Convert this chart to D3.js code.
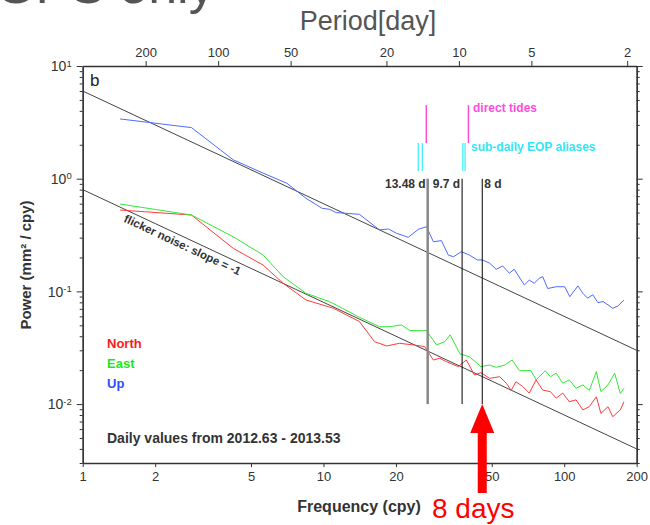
<!DOCTYPE html>
<html>
<head>
<meta charset="utf-8">
<script src="https://cdn.jsdelivr.net/npm/d3@7"></script>
<style>
  body { margin: 0; background: #fff; }
  svg { font-family: "Liberation Sans", Arial, Helvetica, sans-serif; }
</style>
</head>
<body>
<div id="chart"></div>
<script>
// Power spectra (GPS only), daily values 2012.63 - 2013.53
const freqTicks = [1, 2, 5, 10, 20, 50, 100, 200];
const periodTicks = [200, 100, 50, 20, 10, 5, 2];
const powerDecades = [0.01, 0.1, 1, 10];

const freqUp = [1.43, 2.83, 4.22, 5.62, 7.05, 8.46, 9.87, 10.6, 11.3, 14.1, 17.1, 18.6, 20.1, 22.5, 24.8, 26.8, 28.6, 30.9, 33.0, 34.7, 37.4, 40.4, 43.6, 45.8, 49.0, 52.2, 55.5, 59.2, 62.0, 68.3, 71.6, 75.1, 78.8, 81.4, 85.4, 92.6, 100.5, 105.5, 114, 119.5, 125, 131.5, 138, 145, 152, 159, 167, 177];
const powUp = [3.39, 2.84, 1.47, 1.12, 0.91, 0.67, 0.546, 0.535, 0.50, 0.483, 0.351, 0.358, 0.328, 0.302, 0.356, 0.375, 0.276, 0.282, 0.21, 0.203, 0.225, 0.21, 0.19, 0.19, 0.178, 0.157, 0.168, 0.145, 0.157, 0.114, 0.126, 0.118, 0.131, 0.135, 0.106, 0.11, 0.11, 0.0897, 0.112, 0.0962, 0.0871, 0.0933, 0.0794, 0.0813, 0.0759, 0.0708, 0.0741, 0.0839];

const freqEast = [1.43, 2.83, 4.22, 5.62, 6.8, 8.46, 10.6, 12.0, 14.1, 17.1, 18.9, 21.1, 22.8, 24.8, 26.8, 29.5, 31.9, 33.6, 36.9, 40.4, 45.1, 49, 52.2, 56.6, 60.8, 65.2, 72.8, 76.4, 83.4, 87.6, 92.6, 98.6, 105, 112, 119.5, 127, 136, 142, 152, 162, 171, 177];
const powEast = [0.596, 0.476, 0.305, 0.21, 0.135, 0.0962, 0.0811, 0.0708, 0.0589, 0.0486, 0.0486, 0.0504, 0.0449, 0.0449, 0.0449, 0.0335, 0.0358, 0.0411, 0.0279, 0.0263, 0.0215, 0.0222, 0.0212, 0.0222, 0.0246, 0.0198, 0.0198, 0.0164, 0.0198, 0.0175, 0.0188, 0.0153, 0.0164, 0.0138, 0.0148, 0.0132, 0.0194, 0.0129, 0.0148, 0.0188, 0.0124, 0.0138];

const freqNorth = [1.43, 2.83, 4.22, 5.62, 6.8, 8.46, 11.0, 14.1, 16.3, 18.3, 20.7, 23.6, 26.3, 28.6, 30.4, 32.4, 36.3, 39.2, 42.4, 45.1, 49, 53.9, 57.5, 60.2, 63.0, 67.3, 71.6, 76.4, 81.4, 87.6, 92.6, 98.6, 105, 112, 119.5, 127, 136, 142, 152, 159, 171, 177];
const powNorth = [0.527, 0.476, 0.241, 0.171, 0.118, 0.0839, 0.0708, 0.054, 0.0358, 0.0328, 0.0346, 0.0335, 0.0324, 0.0246, 0.0255, 0.0238, 0.0215, 0.0246, 0.0181, 0.019, 0.0169, 0.0175, 0.0153, 0.0132, 0.0158, 0.0143, 0.0125, 0.0164, 0.0133, 0.0129, 0.0113, 0.0125, 0.0105, 0.0109, 0.00887, 0.00948, 0.0116, 0.00828, 0.00948, 0.00773, 0.00887, 0.0105];

// flicker noise reference lines: power = amp / f
const flickerAmp = [6.0, 0.8];

const markerPeriods = [13.48, 9.7, 8];
const markerLabels = ["13.48 d", "9.7 d", "8 d"];
const tidePeriods = [13.66, 9.13];
const aliasPeriods = [14.76, 14.19, 9.63, 9.43];

const series = [
  {name: "North", f: freqNorth, p: powNorth, line: "#ff3b3b", text: "#ff1a1a"},
  {name: "East",  f: freqEast,  p: powEast,  line: "#33e833", text: "#1de61d"},
  {name: "Up",    f: freqUp,    p: powUp,    line: "#4d6bff", text: "#2a4dff"}
];

const W = 650, H = 525;
const plot = {left: 82.7, right: 636.7, top: 66, bottom: 463};

const svg = d3.select("#chart").append("svg")
    .attr("width", W)
    .attr("height", H);

const x = d3.scaleLog().domain([1, 200]).range([plot.left, plot.right]);
const y = d3.scaleLog().domain([0.003, 10]).range([plot.bottom, plot.top]);
const perToFreq = p => 365.25 / p;

// big cut-off title and period label
svg.append("text")
    .attr("x", -5).attr("y", 3)
    .style("font-size", "52px")
    .style("fill", "#555")
    .text("GPS only");

svg.append("text")
    .attr("x", 368).attr("y", 30)
    .attr("text-anchor", "middle")
    .style("font-size", "27px")
    .style("fill", "#555")
    .text("Period[day]");

// clip for data lines
svg.append("clipPath").attr("id", "clip")
  .append("rect")
    .attr("x", plot.left).attr("y", plot.top)
    .attr("width", plot.right - plot.left)
    .attr("height", plot.bottom - plot.top);

const g = svg.append("g").attr("clip-path", "url(#clip)");

// flicker lines
g.selectAll("line.flicker")
  .data(flickerAmp)
  .enter().append("line")
    .attr("class", "flicker")
    .attr("x1", x(1)).attr("y1", d => y(d))
    .attr("x2", x(200)).attr("y2", d => y(d / 200))
    .style("stroke", "#444")
    .style("stroke-width", 1);

// spectra
const line = d3.line().x(d => x(d[0])).y(d => y(d[1]));
series.forEach(s => {
  g.append("path")
    .datum(s.f.map((f, i) => [f, s.p[i]]))
    .attr("d", line)
    .style("fill", "none")
    .style("stroke", s.line)
    .style("stroke-width", 1);
});

// period markers
svg.selectAll("line.marker")
  .data(markerPeriods)
  .enter().append("line")
    .attr("x1", d => x(perToFreq(d))).attr("x2", d => x(perToFreq(d)))
    .attr("y1", y(1)).attr("y2", y(0.01))
    .style("stroke", (d, i) => i === 0 ? "#888" : "#000")
    .style("stroke-width", (d, i) => i === 0 ? 2.5 : 1);

svg.selectAll("text.marker")
  .data(markerPeriods)
  .enter().append("text")
    .attr("x", (d, i) => x(perToFreq(d)) + (i === 2 ? 2 : -2))
    .attr("y", 188)
    .attr("text-anchor", (d, i) => i === 2 ? "start" : "end")
    .style("font-size", "12px")
    .style("font-weight", "bold")
    .style("fill", "#333")
    .text((d, i) => markerLabels[i]);

// direct tides and EOP aliases
svg.selectAll("line.tide")
  .data(tidePeriods)
  .enter().append("line")
    .attr("x1", d => x(perToFreq(d))).attr("x2", d => x(perToFreq(d)))
    .attr("y1", y(4.5)).attr("y2", y(2.07))
    .style("stroke", "#ff4ce0")
    .style("stroke-width", 1.5);

svg.selectAll("line.alias")
  .data(aliasPeriods)
  .enter().append("line")
    .attr("x1", d => x(perToFreq(d))).attr("x2", d => x(perToFreq(d)))
    .attr("y1", y(2.07)).attr("y2", y(1.17))
    .style("stroke", "#33eeff")
    .style("stroke-width", 1.2);

svg.append("text")
    .attr("x", 473).attr("y", 112)
    .style("font-size", "12px").style("font-weight", "bold")
    .style("fill", "#ff4ce0")
    .text("direct tides");

svg.append("text")
    .attr("x", 471).attr("y", 151)
    .style("font-size", "12px").style("font-weight", "bold")
    .style("fill", "#33e6f5")
    .text("sub-daily EOP aliases");

// flicker label along the lower line
const angle = Math.atan2(y(0.08) - y(0.8), x(10) - x(1)) * 180 / Math.PI;
svg.append("text")
    .attr("transform", `translate(${x(1.5) - 2},${y(0.8 / 1.5) + 12}) rotate(${angle})`)
    .style("font-size", "11.5px").style("font-weight", "bold")
    .style("fill", "#333")
    .text("flicker noise: slope = -1");

// axes
const axisColor = "#333";
const styleAxis = sel => {
  sel.selectAll("path").style("stroke", axisColor).style("stroke-width", 1.3);
  sel.selectAll("line").style("stroke", axisColor);
  sel.selectAll("text").style("fill", "#333").style("font-size", "13px")
     .style("font-family", "'Liberation Sans', Arial, sans-serif");
};

svg.append("g")
    .attr("transform", `translate(0,${plot.bottom})`)
    .call(d3.axisBottom(x).tickValues(freqTicks).tickFormat(d3.format("d")).tickSize(4).tickSizeOuter(0).tickPadding(5))
    .call(styleAxis);

svg.append("g")
    .attr("transform", `translate(0,${plot.top})`)
    .call(d3.axisTop(x).tickValues(periodTicks.map(perToFreq))
          .tickFormat((d, i) => periodTicks[i]).tickSize(5).tickSizeOuter(0).tickPadding(4))
    .call(styleAxis);

const minorTicks = [];
[0.001, 0.01, 0.1, 1].forEach(dec => {
  for (let k = 2; k <= 9; k++) {
    const v = dec * k;
    if (v >= 0.003 && v < 10) minorTicks.push(v);
  }
});

[["left", d3.axisLeft, plot.left], ["right", d3.axisRight, plot.right]].forEach(([side, ax, xpos]) => {
  svg.append("g")
      .attr("transform", `translate(${xpos},0)`)
      .call(ax(y).tickValues(minorTicks).tickSize(3).tickSizeOuter(0).tickFormat(""))
      .call(styleAxis);
  const major = svg.append("g")
      .attr("transform", `translate(${xpos},0)`)
      .call(ax(y).tickValues(powerDecades).tickSize(6).tickSizeOuter(0).tickFormat(""))
      .call(styleAxis);
  if (side === "left") {
    major.selectAll(".tick").append("text")
        .attr("x", -11).attr("dy", "0.35em")
        .attr("text-anchor", "end")
        .style("fill", "#333").style("font-size", "14px")
        .each(function(d) {
          const t = d3.select(this);
          t.append("tspan").text("10");
          t.append("tspan").attr("dy", "-0.5em").style("font-size", "9.5px")
            .text(Math.round(Math.log10(d)));
        });
  }
});

// panel letter
svg.append("text")
    .attr("x", 90).attr("y", 86)
    .style("font-size", "17px").style("fill", "#222")
    .text("b");

// legend
svg.selectAll("text.legend")
  .data(series)
  .enter().append("text")
    .attr("x", 107)
    .attr("y", (d, i) => 348 + i * 20)
    .style("font-size", "13px").style("font-weight", "bold")
    .style("fill", d => d.text)
    .text(d => d.name);

svg.append("text")
    .attr("x", 107).attr("y", 443)
    .style("font-size", "14px").style("font-weight", "bold")
    .style("fill", "#333")
    .text("Daily values from 2012.63 - 2013.53");

// axis titles
svg.append("text")
    .attr("x", 359).attr("y", 512)
    .attr("text-anchor", "middle")
    .style("font-size", "16px").style("font-weight", "bold")
    .style("fill", "#333")
    .text("Frequency (cpy)");

svg.append("text")
    .attr("transform", "translate(31,265) rotate(-90)")
    .attr("text-anchor", "middle")
    .style("font-size", "15px").style("font-weight", "bold")
    .style("fill", "#333")
    .text("Power (mm² / cpy)");

// red arrow at 8 days
const ax8 = x(perToFreq(8));
const tip = y(0.01);
svg.append("polygon")
    .attr("points", [
      [ax8, tip], [ax8 + 12, tip + 29], [ax8 + 4.5, tip + 29], [ax8 + 4.5, 493],
      [ax8 - 4.5, 493], [ax8 - 4.5, tip + 29], [ax8 - 12, tip + 29]
    ].map(p => p.join(",")).join(" "))
    .style("fill", "#ff0000");

svg.append("text")
    .attr("x", 432).attr("y", 518)
    .style("font-size", "28px")
    .style("fill", "#ff0000")
    .text("8 days");
</script>
</body>
</html>
